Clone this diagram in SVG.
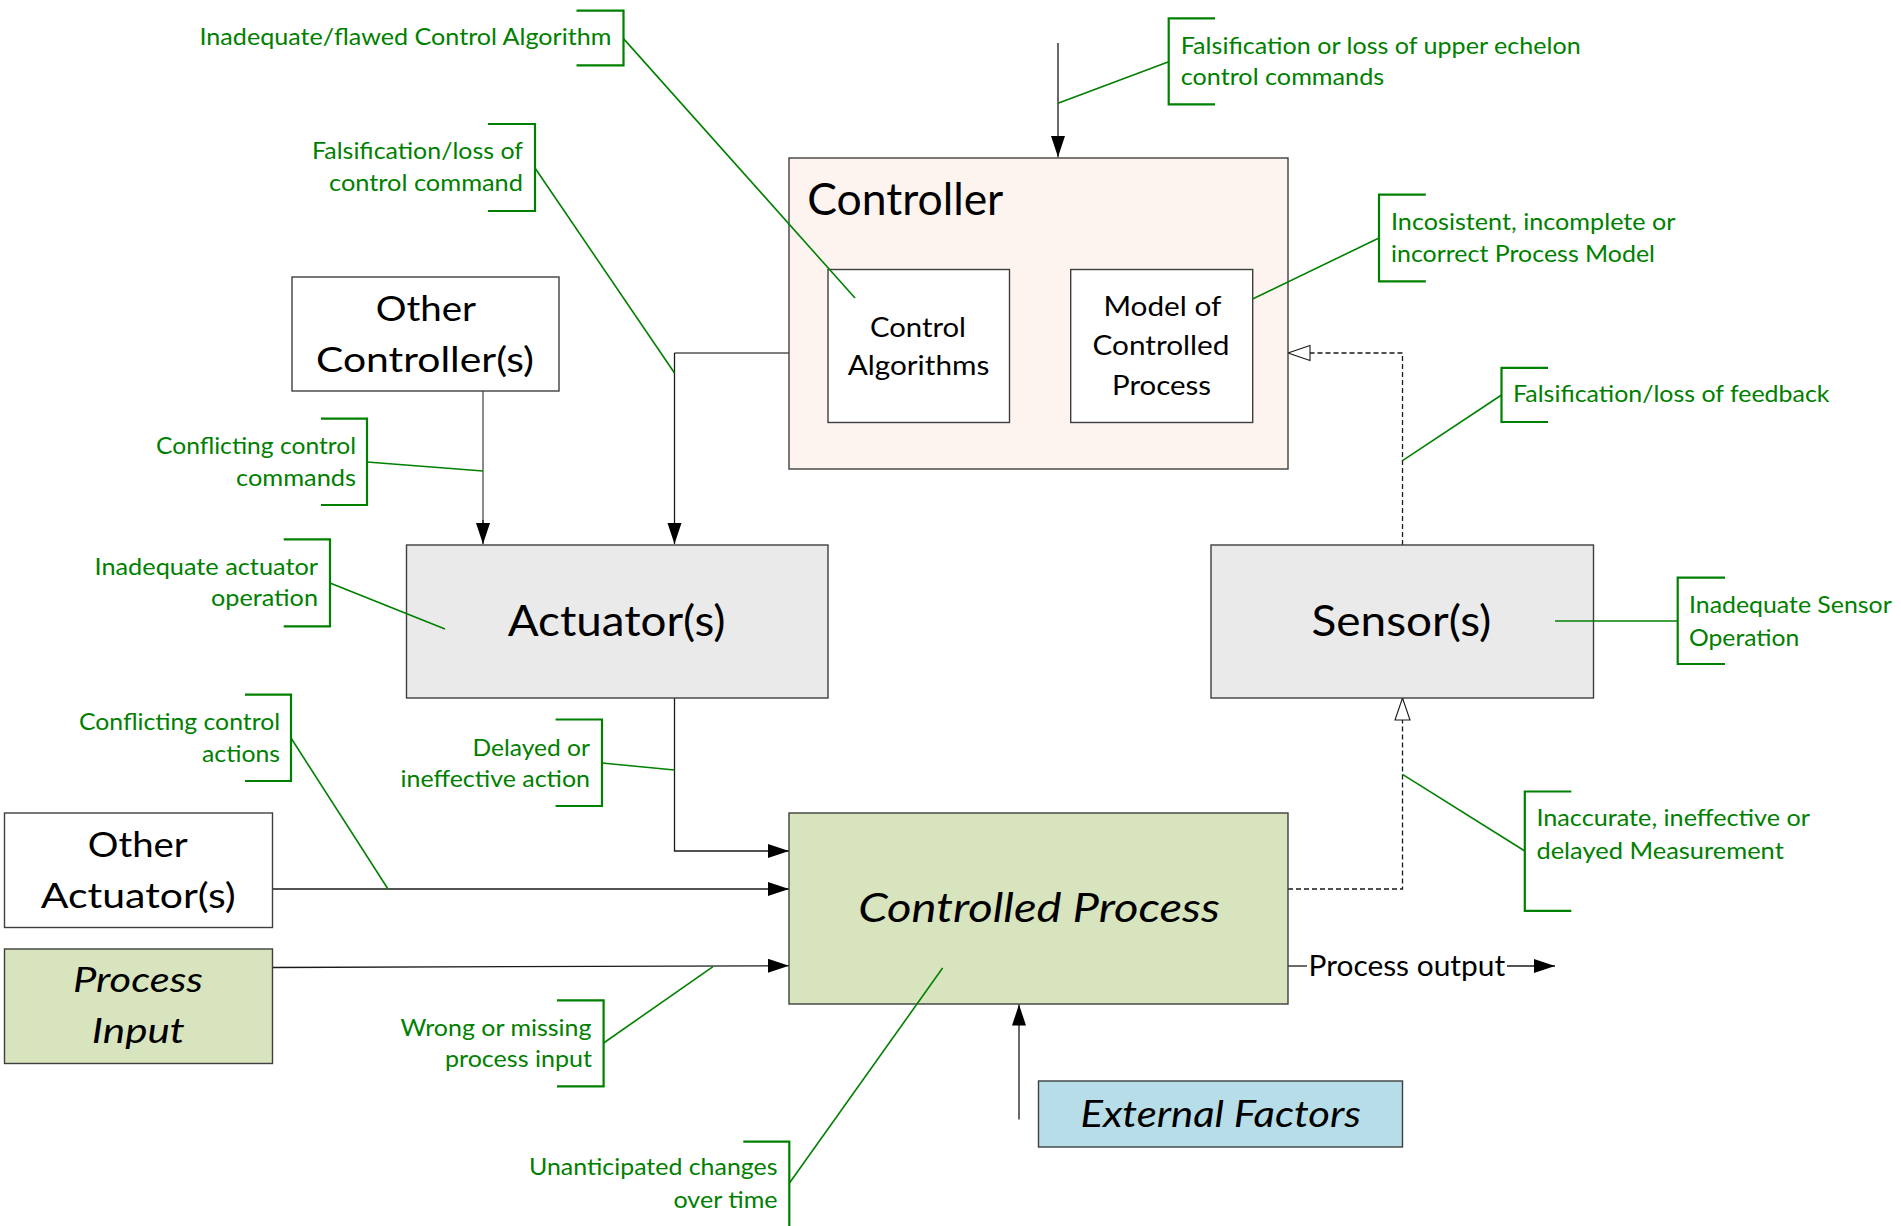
<svg xmlns="http://www.w3.org/2000/svg" width="1901" height="1226" viewBox="0 0 1901 1226">
<style>
  .box{stroke:#3f3f3f;stroke-width:1.4}
  .t{font-family:Lato,"Liberation Sans",sans-serif;fill:#000}
  .it{font-style:italic}
  .g{font-family:Lato,"Liberation Sans",sans-serif;fill:#008000;font-size:24px}
  .lead{stroke:#008000;stroke-width:1.6;fill:none}
  .br{stroke:#008000;stroke-width:2.2;fill:none}
  .con{stroke:#1a1a1a;stroke-width:1.3;fill:none}
  .gray{stroke:#7f7f7f;stroke-width:1.8;fill:none}
  .dash{stroke:#1a1a1a;stroke-width:1.3;fill:none;stroke-dasharray:5 3}
</style>
<defs>
  <marker id="ah" markerUnits="userSpaceOnUse" markerWidth="22" markerHeight="16" refX="21" refY="7" orient="auto">
    <path d="M0,0 L21,7 L0,14 z" fill="#000"/>
  </marker>
  <marker id="oh" markerUnits="userSpaceOnUse" markerWidth="25" markerHeight="18" refX="23" refY="8.5" orient="auto">
    <path d="M1,1 L23,8.5 L1,16 z" fill="#fff" stroke="#1a1a1a" stroke-width="1.1"/>
  </marker>
</defs>
<rect width="1901" height="1226" fill="#fff"/>

<g id="connectors">
  <path class="con" d="M1058,43 V157" marker-end="url(#ah)"/>
  <path class="gray" d="M789,353 H674.5"/>
  <path class="con" d="M674.5,353 V544" marker-end="url(#ah)"/>
  <path class="gray" d="M483,391 V524"/>
  <path class="con" d="M483,520 V544" marker-end="url(#ah)"/>
  <path class="con" d="M674.5,698 V851 H789" marker-end="url(#ah)"/>
  <path class="con" d="M272.5,889 H789" marker-end="url(#ah)"/>
  <path class="con" d="M272.5,967.5 L789,965.7" marker-end="url(#ah)"/>
  <path class="con" d="M1019,1119.5 V1004.5" marker-end="url(#ah)"/>
  <path class="con" d="M1288,966 H1307"/>
  <path class="con" d="M1507,966 H1555" marker-end="url(#ah)"/>
  <path class="dash" d="M1288,889 H1402.5 V698" marker-end="url(#oh)"/>
  <path class="dash" d="M1402.5,545 V353 H1288" marker-end="url(#oh)"/>
  <text class="t" x="1308.5" y="976" font-size="28" textLength="196.7" lengthAdjust="spacingAndGlyphs">Process output</text>
</g>

<g id="controller">
  <rect class="box" x="789" y="158" width="499" height="311" fill="#fdf4ef"/>
  <text class="t" x="807.3" y="215" font-size="44" textLength="196" lengthAdjust="spacingAndGlyphs">Controller</text>
</g>
<g id="control-algorithms">
  <rect class="box" x="828" y="269.5" width="181.5" height="153" fill="#fff"/>
  <text class="t" x="870" y="336.7" font-size="27" textLength="96" lengthAdjust="spacingAndGlyphs">Control</text>
  <text class="t" x="847.7" y="375" font-size="27" textLength="141.6" lengthAdjust="spacingAndGlyphs">Algorithms</text>
</g>
<g id="process-model">
  <rect class="box" x="1070.7" y="269.5" width="182" height="153" fill="#fff"/>
  <text class="t" x="1103.4" y="316" font-size="27" textLength="118" lengthAdjust="spacingAndGlyphs">Model of</text>
  <text class="t" x="1092.5" y="355" font-size="27" textLength="137" lengthAdjust="spacingAndGlyphs">Controlled</text>
  <text class="t" x="1112" y="394.6" font-size="27" textLength="99" lengthAdjust="spacingAndGlyphs">Process</text>
</g>
<g id="other-controllers">
  <rect class="box" x="292" y="277" width="267" height="114" fill="#fff"/>
  <text class="t" x="375.7" y="320.7" font-size="34" textLength="100.3" lengthAdjust="spacingAndGlyphs">Other</text>
  <text class="t" x="316" y="371.7" font-size="34" textLength="218" lengthAdjust="spacingAndGlyphs">Controller(s)</text>
</g>
<g id="actuators">
  <rect class="box" x="406.5" y="545" width="421.5" height="153" fill="#eaeaea"/>
  <text class="t" x="507.7" y="636" font-size="42" textLength="217.8" lengthAdjust="spacingAndGlyphs">Actuator(s)</text>
</g>
<g id="sensors">
  <rect class="box" x="1211" y="545" width="382.5" height="153" fill="#eaeaea"/>
  <text class="t" x="1311.5" y="636" font-size="42" textLength="179.8" lengthAdjust="spacingAndGlyphs">Sensor(s)</text>
</g>
<g id="controlled-process">
  <rect class="box" x="789" y="813" width="499" height="191" fill="#d7e4bd"/>
  <text class="t it" x="858.2" y="922" font-size="41" textLength="361.7" lengthAdjust="spacingAndGlyphs">Controlled Process</text>
</g>
<g id="other-actuators">
  <rect class="box" x="4.5" y="813" width="268" height="114.5" fill="#fff"/>
  <text class="t" x="87.8" y="857" font-size="34" textLength="100" lengthAdjust="spacingAndGlyphs">Other</text>
  <text class="t" x="40.8" y="908" font-size="34" textLength="195" lengthAdjust="spacingAndGlyphs">Actuator(s)</text>
</g>
<g id="process-input">
  <rect class="box" x="4.5" y="949" width="268" height="114.5" fill="#d7e4bd"/>
  <text class="t it" x="73" y="992" font-size="35" textLength="130" lengthAdjust="spacingAndGlyphs">Process</text>
  <text class="t it" x="91.8" y="1043" font-size="35" textLength="93" lengthAdjust="spacingAndGlyphs">Input</text>
</g>
<g id="external-factors">
  <rect class="box" x="1038.5" y="1081" width="364" height="66" fill="#b7dde8"/>
  <text class="t it" x="1080.4" y="1126.7" font-size="36" textLength="280.5" lengthAdjust="spacingAndGlyphs">External Factors</text>
</g>

<g id="annotations">
  <g id="a-control-algorithm">
    <path class="br" d="M576.5,10.7 H623.5 V65.4 H576.5"/>
    <path class="lead" d="M623.5,38.6 L855,298"/>
    <text class="g" x="199.5" y="45" textLength="412" lengthAdjust="spacingAndGlyphs">Inadequate/flawed Control Algorithm</text>
  </g>
  <g id="a-control-command">
    <path class="br" d="M488,124 H535 V211 H488"/>
    <path class="lead" d="M535,168 L674.5,373"/>
    <text class="g" x="312" y="159" textLength="211" lengthAdjust="spacingAndGlyphs">Falsification/loss of</text>
    <text class="g" x="329" y="191" textLength="194" lengthAdjust="spacingAndGlyphs">control command</text>
  </g>
  <g id="a-conflicting-commands">
    <path class="br" d="M321,418.6 H367 V505 H321"/>
    <path class="lead" d="M367,462 L483,471"/>
    <text class="g" x="156" y="453.5" textLength="200" lengthAdjust="spacingAndGlyphs">Conflicting control</text>
    <text class="g" x="236" y="486" textLength="120" lengthAdjust="spacingAndGlyphs">commands</text>
  </g>
  <g id="a-actuator-operation">
    <path class="br" d="M283.7,539.4 H330 V626.3 H283.7"/>
    <path class="lead" d="M330,583 L445,629"/>
    <text class="g" x="94.5" y="575" textLength="223.5" lengthAdjust="spacingAndGlyphs">Inadequate actuator</text>
    <text class="g" x="211" y="606" textLength="107" lengthAdjust="spacingAndGlyphs">operation</text>
  </g>
  <g id="a-conflicting-actions">
    <path class="br" d="M245,694.7 H291 V781 H245"/>
    <path class="lead" d="M291,738 L388,889"/>
    <text class="g" x="79" y="730" textLength="201" lengthAdjust="spacingAndGlyphs">Conflicting control</text>
    <text class="g" x="202" y="762" textLength="78" lengthAdjust="spacingAndGlyphs">actions</text>
  </g>
  <g id="a-delayed-action">
    <path class="br" d="M555.6,719.5 H602 V806 H555.6"/>
    <path class="lead" d="M602,763 L674.5,770"/>
    <text class="g" x="472.5" y="755.5" textLength="117.5" lengthAdjust="spacingAndGlyphs">Delayed or</text>
    <text class="g" x="400.5" y="787" textLength="189.5" lengthAdjust="spacingAndGlyphs">ineffective action</text>
  </g>
  <g id="a-process-input">
    <path class="br" d="M557,1000.4 H603.6 V1086.4 H557"/>
    <path class="lead" d="M603.6,1043 L713,966.6"/>
    <text class="g" x="400.5" y="1035.5" textLength="191" lengthAdjust="spacingAndGlyphs">Wrong or missing</text>
    <text class="g" x="445" y="1067" textLength="147" lengthAdjust="spacingAndGlyphs">process input</text>
  </g>
  <g id="a-unanticipated">
    <path class="br" d="M743.3,1141.7 H789.3 V1226"/>
    <path class="lead" d="M789.3,1183.3 L942.6,968"/>
    <text class="g" x="529" y="1175" textLength="248.5" lengthAdjust="spacingAndGlyphs">Unanticipated changes</text>
    <text class="g" x="673.5" y="1208" textLength="104" lengthAdjust="spacingAndGlyphs">over time</text>
  </g>
  <g id="a-upper-echelon">
    <path class="br" d="M1215,18.3 H1168.7 V104.3 H1215"/>
    <path class="lead" d="M1168.7,61.7 L1058,103.3"/>
    <text class="g" x="1180.7" y="53.5" textLength="400" lengthAdjust="spacingAndGlyphs">Falsification or loss of upper echelon</text>
    <text class="g" x="1180.7" y="85" textLength="203.5" lengthAdjust="spacingAndGlyphs">control commands</text>
  </g>
  <g id="a-process-model">
    <path class="br" d="M1425.8,194.6 H1379 V281.4 H1425.8"/>
    <path class="lead" d="M1379,238 L1252.6,299"/>
    <text class="g" x="1391" y="229.6" textLength="284.5" lengthAdjust="spacingAndGlyphs">Incosistent, incomplete or</text>
    <text class="g" x="1391" y="262" textLength="264" lengthAdjust="spacingAndGlyphs">incorrect Process Model</text>
  </g>
  <g id="a-feedback">
    <path class="br" d="M1548,367.9 H1501.5 V422 H1548"/>
    <path class="lead" d="M1501.5,395 L1402.5,460.7"/>
    <text class="g" x="1513" y="401.8" textLength="316.5" lengthAdjust="spacingAndGlyphs">Falsification/loss of feedback</text>
  </g>
  <g id="a-sensor-operation">
    <path class="br" d="M1725,577.7 H1677.7 V664 H1725"/>
    <path class="lead" d="M1555,621 H1677.7"/>
    <text class="g" x="1689" y="613.3" textLength="202.7" lengthAdjust="spacingAndGlyphs">Inadequate Sensor</text>
    <text class="g" x="1689" y="646" textLength="110.3" lengthAdjust="spacingAndGlyphs">Operation</text>
  </g>
  <g id="a-measurement">
    <path class="br" d="M1571.3,791.5 H1524.8 V910.8 H1571.3"/>
    <path class="lead" d="M1524.8,851 L1402.5,774.4"/>
    <text class="g" x="1536.4" y="826" textLength="273.6" lengthAdjust="spacingAndGlyphs">Inaccurate, ineffective or</text>
    <text class="g" x="1536.4" y="858.6" textLength="247.4" lengthAdjust="spacingAndGlyphs">delayed Measurement</text>
  </g>
</g>
</svg>
